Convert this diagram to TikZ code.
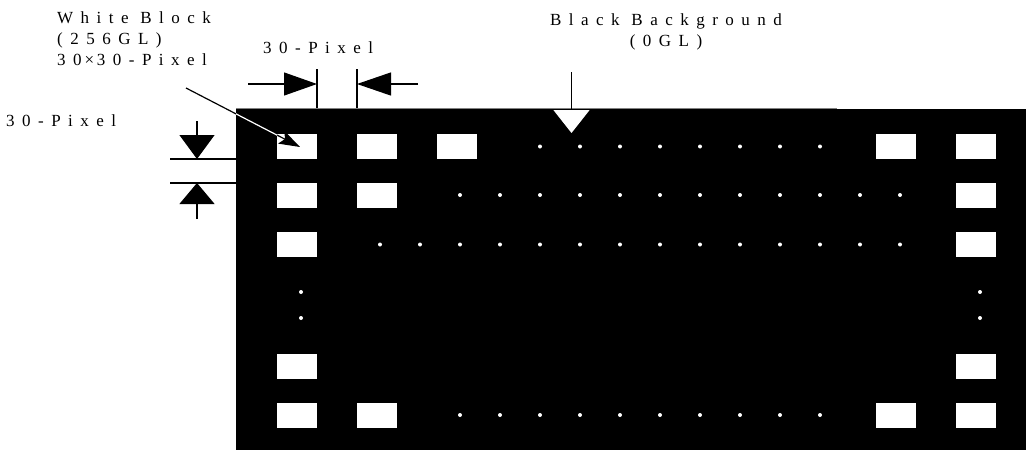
\documentclass[tikz,border=0pt]{standalone}
\usepackage{fontspec}
\setmainfont{Liberation Serif}
\newfontfamily\spacedfont{Liberation Serif}[LetterSpace=44]
\usetikzlibrary{arrows.meta,positioning}

\tikzset{
  spaced text/.style={font=\spacedfont\fontsize{17}{21}\selectfont,inner sep=0pt},
  white block/.style={fill=white},
  white dot/.style={fill=white},
  dim line/.style={line width=1.2pt},
}
\newcommand{\wblock}[2]{\fill[white block] (#1,#2) rectangle ++(40,24.5);}

\begin{document}
\begin{tikzpicture}[x=1pt,y=-1pt]
  \useasboundingbox (0,0) rectangle (1026,450);
  % black background
  \fill[black] (236,109) rectangle (1026,450);
  \draw[gray,line width=0.8pt] (236,108) -- (837,108);

  % white blocks
  \foreach \row in {134,183,232,354,403} {
    \wblock{277}{\row}
    \wblock{956}{\row}
  }
  \wblock{357}{134} \wblock{437}{134} \wblock{876}{134}
  \wblock{357}{183}
  \wblock{357}{403} \wblock{876}{403}

  % dots
  \foreach \x in {540,580,...,820} \fill[white dot] (\x,146.5) circle[radius=2pt];
  \foreach \x in {460,500,...,900} \fill[white dot] (\x,195) circle[radius=2pt];
  \foreach \x in {380,420,...,900} \fill[white dot] (\x,244.5) circle[radius=2pt];
  \foreach \x in {460,500,...,820} \fill[white dot] (\x,415) circle[radius=2pt];
  \foreach \y in {292,318} {
    \fill[white dot] (301,\y) circle[radius=2pt];
    \fill[white dot] (980,\y) circle[radius=2pt];
  }

  % labels (base = last line)
  \node[spaced text,align=left,anchor=base west] (whiteblock) at (57,65)
    {White Block\\(256GL)\\30{\fontspec{Liberation Serif}\,×\,}30-Pixel};
  \node[spaced text,align=center,anchor=base] (blackbg) at (666,46.5)
    {Black Background\\(0GL)};
  \node[spaced text,anchor=base west] (gappix) at (263,53) {30-Pixel};
  \node[spaced text,anchor=base west] (rowpix) at (6,126) {30-Pixel};

  % leader to a white block
  \coordinate (wbtail) at (186,88);
  \coordinate (wbtip) at (300,147);
  \draw[dim line,-{Stealth[length=21pt,width=14pt,inset=4pt]}] (wbtail) -- (wbtip);
  \begin{scope}
    \clip (236,109) rectangle (277,170);
    \draw[dim line,white] (wbtail) -- (wbtip);
  \end{scope}

  % arrow to the background
  \coordinate (bgtail) at (571.5,72);
  \coordinate (bgtip) at (571.5,133);
  \draw[dim line,-{Triangle[length=23pt,width=36pt,color=white]}] (bgtail) -- (bgtip);

  % horizontal 30-pixel gap
  \draw[dim line] (317,69) -- (317,108);
  \draw[dim line] (357,69) -- (357,108);
  \draw[dim line,-{Triangle[length=33pt,width=23pt]}] (248,84) -- (317,84);
  \draw[dim line,-{Triangle[length=34pt,width=23pt]}] (418,84) -- (357,84);

  % vertical 30-pixel gap
  \draw[dim line] (170,159) -- (237,159);
  \draw[dim line] (170,183) -- (237,183);
  \draw[dim line,-{Triangle[length=24pt,width=35pt]}] (197,121) -- (197,159);
  \draw[dim line,-{Triangle[length=21pt,width=35pt]}] (197,219) -- (197,183);
\end{tikzpicture}
\end{document}
